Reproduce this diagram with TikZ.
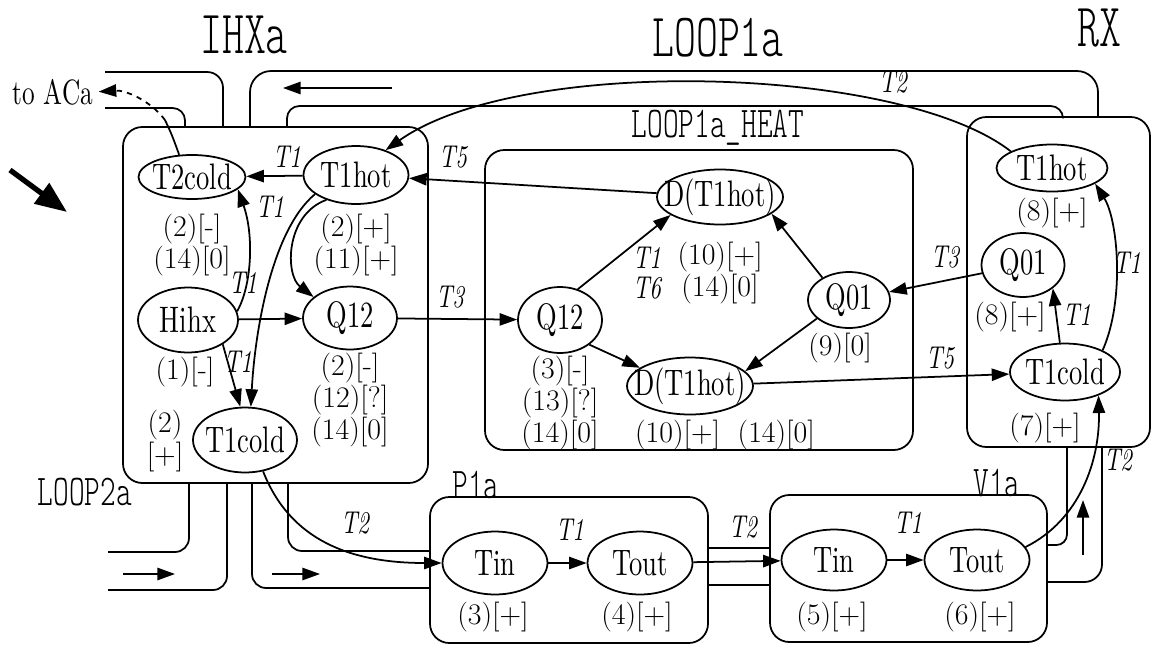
\documentclass[tikz,border=0pt]{standalone}
\usepackage{fontspec}
\newfontfamily\nodefont{lmroman10-regular.otf}[FakeStretch=0.72, ItalicFont=lmroman10-italic.otf]
\newfontfamily\ttlfont{lmmonolt10-regular.otf}[FakeStretch=0.68]
\usetikzlibrary{shapes.geometric,arrows.meta}
\newcommand{\nm}[1]{\makebox[0pt]{#1}}

\begin{document}
\begin{tikzpicture}[x=0.02cm, y=-0.02cm,
  vn/.style 2 args={ellipse, draw, line width=1pt, inner sep=0pt, minimum width=#1, minimum height=#2, font=\nodefont\fontsize{21}{21}\selectfont},
  lbl/.style={align=center, inner sep=0pt, font=\fontsize{17}{16.5}\selectfont},
  tlab/.style={inner sep=0pt, font=\nodefont\itshape\fontsize{18}{17}\selectfont},
  bigtitle/.style={inner sep=0pt, font=\ttlfont\fontsize{35}{35}\selectfont},
  subtitle/.style={inner sep=0pt, font=\ttlfont\fontsize{25}{25}\selectfont},
  block/.style={draw, line width=1pt, rounded corners=11pt},
  pipe/.style={line width=1pt, rounded corners=8pt},
  arr/.style={line width=1pt, -{Triangle[length=10pt,width=7pt]}}]
\useasboundingbox (0,0) rectangle (1153,646);

\draw[block] (123,127) rectangle (428,483);
\draw[block] (485,150) rectangle (913,450);
\draw[block] (967,117) rectangle (1150,447);
\draw[block] (430,497) rectangle (708,643);
\draw[block] (770,495) rectangle (1047,642);

\draw[pipe, rounded corners=9pt] (105,72) -| (223,127);
\draw[pipe, rounded corners=7pt] (105,108) -| (185,127);
\draw[pipe, rounded corners=12pt] (250,127) |- (700,71) -| (1098,117);
\draw[pipe, rounded corners=7pt] (287,127) |- (700,106) -| (1063,117);
\draw[pipe] (189,483) |- (108,552);
\draw[pipe] (227,483) |- (108,590);
\draw[pipe] (288,483) |- (430,551);
\draw[pipe] (252,483) |- (430,588);
\draw[pipe] (708,548) -- (770,548);
\draw[pipe] (708,585) -- (770,585);
\draw[pipe, rounded corners=6pt] (1047,545) -| (1067,447);
\draw[pipe, rounded corners=10pt] (1047,582) -| (1102,447);

\coordinate (pa1) at (392,88);
\coordinate (pa2) at (283,88);
\coordinate (pb1) at (123,574);
\coordinate (pb2) at (175,574);
\coordinate (pc1) at (272,574);
\coordinate (pc2) at (320,574);
\coordinate (pd1) at (1083,555);
\coordinate (pd2) at (1083,500);
\coordinate (bg1) at (10,170);
\coordinate (bg2) at (67,212);
\coordinate (acx) at (165,120);
\draw[arr] (pa1) -- (pa2);
\draw[arr] (pb1) -- (pb2);
\draw[arr] (pc1) -- (pc2);
\draw[arr] (pd1) -- (pd2);
\draw[line width=3pt, -{Triangle[length=18pt,width=14pt]}] (bg1) -- (bg2);

\node[bigtitle] (tihx) at (244,35) {IHXa};
\node[bigtitle] (tloop) at (718,38) {LOOP1a};
\node[bigtitle] (trx) at (1099,28) {RX};
\node[subtitle] (theat) at (718,128) {LOOP1a\_HEAT};
\node[subtitle] (tloop2) at (85,492) {LOOP2a};
\node[subtitle] (tp) at (476,485) {P1a};
\node[subtitle] (tv) at (997,483) {V1a};
\node[inner sep=0pt, font=\nodefont\fontsize{20}{20}\selectfont] (taca) at (53,92) {to ACa};

\node[vn={2.14cm}{0.88cm}] (t2cold) at (192,177) {\nm{T2cold}};
\node[vn={2.1cm}{1.16cm}] (ihot) at (356,175) {\nm{T1hot}};
\node[vn={2cm}{1.3cm}] (hihx) at (188,320) {\nm{Hihx}};
\node[vn={1.88cm}{1.26cm}] (iq12) at (350,318) {\nm{Q12}};
\node[vn={2.08cm}{1.3cm}] (icold) at (245,440) {\nm{T1cold}};
\node[vn={2.52cm}{1.1cm}] (dtop) at (720,197) {\nm{D(T1hot)}};
\node[vn={1.68cm}{1.32cm}] (hq12) at (560,320) {\nm{Q12}};
\node[vn={1.64cm}{1.12cm}] (hq01) at (849,300) {\nm{Q01}};
\node[vn={2.52cm}{1.14cm}] (dbot) at (690,386) {\nm{D(T1hot)}};
\node[vn={2.22cm}{0.94cm}] (rhot) at (1052,168) {\nm{T1hot}};
\node[vn={1.66cm}{1.28cm}] (rq01) at (1023,265) {\nm{Q01}};
\node[vn={2.2cm}{1.14cm}] (rcold) at (1065,372) {\nm{T1cold}};
\node[vn={2.1cm}{1.26cm}] (ptin) at (495,563) {\nm{Tin}};
\node[vn={2.1cm}{1.26cm}] (ptout) at (640,563) {\nm{Tout}};
\node[vn={2.1cm}{1.22cm}] (vtin) at (834,560) {\nm{Tin}};
\node[vn={2.1cm}{1.22cm}] (vtout) at (977,560) {\nm{Tout}};

\node[lbl] (c1) at (192,245) {(2)[-]\\(14)[0]};
\node[lbl] (c2) at (356,245) {(2)[+]\\(11)[+]};
\node[lbl] (c3) at (185,372) {(1)[-]};
\node[lbl] (c4) at (350,400) {(2)[-]\\(12)[?]\\(14)[0]};
\node[lbl] (c5) at (165,441) {(2)\\{}[+]};
\node[lbl] (c6) at (720,273) {(10)[+]\\(14)[0]};
\node[lbl] (c7) at (840,348) {(9)[0]};
\node[lbl] (c8) at (560,403) {(3)[-]\\(13)[?]\\(14)[0]};
\node[lbl] (c9) at (725,435) {(10)[+]\hspace{10pt}(14)[0]};
\node[lbl] (c10) at (1052,213) {(8)[+]};
\node[lbl] (c11) at (1010,317) {(8)[+]};
\node[lbl] (c12) at (1045,428) {(7)[+]};
\node[lbl] (c13) at (493,617) {(3)[+]};
\node[lbl] (c14) at (637,617) {(4)[+]};
\node[lbl] (c15) at (832,617) {(5)[+]};
\node[lbl] (c16) at (980,617) {(6)[+]};

\node[tlab] (a1) at (287,157) {T1};
\node[tlab] (a2) at (270,207) {T1};
\node[tlab] (a3) at (243,283) {T1};
\node[tlab] (a4) at (238,362) {T1};
\node[tlab] (a5) at (453,157) {T5};
\node[tlab] (a6) at (450,297) {T3};
\node[tlab] (a7) at (893,82) {T2};
\node[tlab] (a8) at (945,257) {T3};
\node[tlab] (a9) at (940,358) {T5};
\node[tlab] (a10) at (1077,315) {T1};
\node[tlab] (a11) at (1127,263) {T1};
\node[tlab] (a12) at (1118,460) {T2};
\node[tlab] (a13) at (355,523) {T2};
\node[tlab] (a14) at (570,530) {T1};
\node[tlab] (a15) at (743,527) {T2};
\node[tlab] (a16) at (908,523) {T1};
\node[tlab, align=center] (a17) at (647,273) {T1\\T6};

\draw[line width=1pt] (t2cold.120) .. controls (172,135) .. (acx);
\draw[arr, dashed, shorten >=3pt] (acx) .. controls (150,100) and (125,90) .. (taca.east);
\draw[arr] (ihot) -- (t2cold);
\draw[arr] (hihx.10) .. controls (252,285) and (254,235) .. (t2cold.-15);
\draw[arr] (ihot.205) .. controls (272,230) and (255,330) .. (icold.80);
\draw[arr] (hihx.-35) -- (icold.98);
\draw[arr] (ihot.220) .. controls (285,215) and (285,275) .. (iq12.150);
\draw[arr] (hihx) -- (iq12);
\draw[arr] (iq12) -- (hq12);
\draw[arr] (dtop) -- (ihot);
\draw[arr] (rhot.158) .. controls (900,65) and (520,55) .. (ihot.40);
\draw[arr] (rq01) -- (hq01);
\draw[arr] (dbot) -- (rcold);
\draw[arr] (hq12.60) -- (dtop.200);
\draw[arr] (hq12.-40) -- (dbot.160);
\draw[arr] (hq01.140) -- (dtop.-18);
\draw[arr] (hq01.210) -- (dbot.15);
\draw[arr] (rcold.100) -- (rq01.-38);
\draw[arr] (rcold.30) .. controls (1125,300) and (1118,220) .. (rhot.-20);
\draw[arr] (ptin) -- (ptout);
\draw[arr] (ptout) -- (vtin);
\draw[arr] (vtin) -- (vtout);
\draw[arr] (vtout.15) .. controls (1080,520) and (1100,460) .. (rcold.-35);
\draw[arr] (icold.-60) .. controls (290,540) and (350,563) .. (ptin.west);
\end{tikzpicture}
\end{document}
